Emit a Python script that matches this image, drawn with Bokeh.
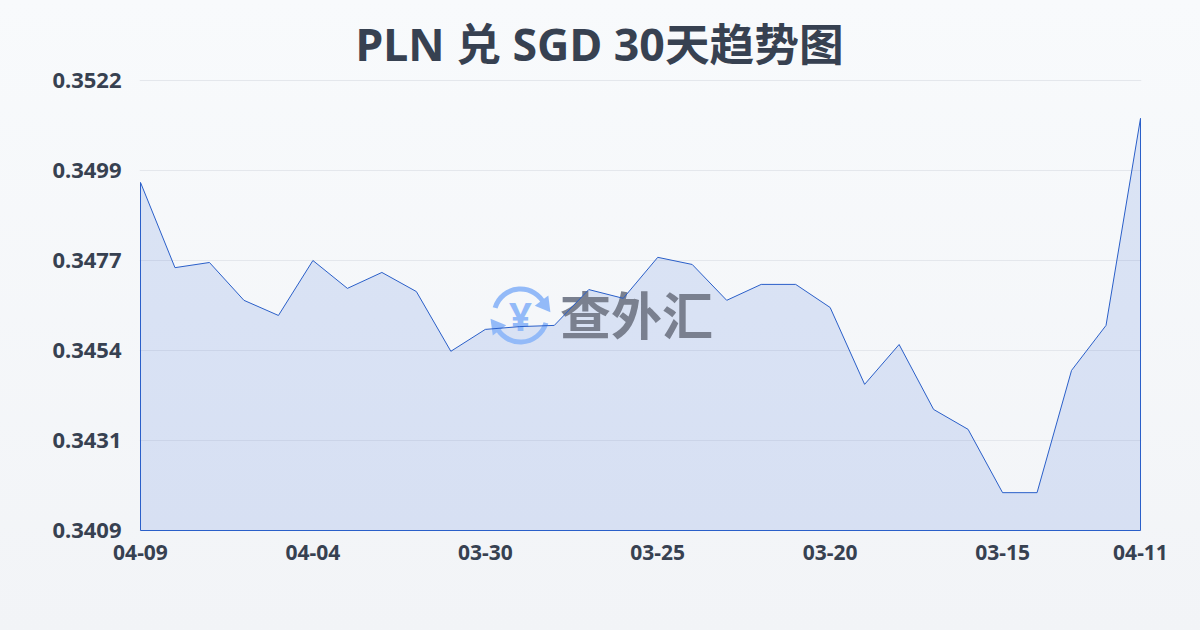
from bokeh.plotting import figure
from bokeh.embed import file_html
from bokeh.resources import INLINE
from bokeh.models import FixedTicker, Range1d
from bokeh.core.properties import value

title_text = "PLN 兑 SGD 30天趋势图"
watermark_text = "查外汇"
rates = [0.34964, 0.34750, 0.34763, 0.34668, 0.34630, 0.34768, 0.34698, 0.34738, 0.34690, 0.34540,
         0.34595, 0.34602, 0.34605, 0.34695, 0.34673, 0.34776, 0.34758, 0.34668, 0.34708, 0.34708,
         0.34650, 0.34457, 0.34557, 0.34394, 0.34344, 0.34185, 0.34185, 0.34492, 0.34605, 0.35125]
x_tick_pos = [0, 5, 10, 15, 20, 25, 29]
x_tick_labels = ["04-09", "04-04", "03-30", "03-25", "03-20", "03-15", "04-11"]
y_tick_pos = [0.3522, 0.34994, 0.34768, 0.34542, 0.34316, 0.3409]
y_tick_labels = ["0.3522", "0.3499", "0.3477", "0.3454", "0.3431", "0.3409"]

W, H = 1200, 630
L, R, T, B = 140, 60, 80, 100
FONT = "Noto Sans, Noto Sans CJK SC"
TEXT = "#374151"
LINE = "#2a5fc9"

xs = list(range(len(rates)))
ymin, ymax = y_tick_pos[-1], y_tick_pos[0]
xpad = (len(rates) - 1) / (W - L - R)
ypad = (ymax - ymin) / (H - T - B)

p = figure(width=W, height=H, output_backend="svg", toolbar_location=None,
           x_range=Range1d(-xpad, len(rates) - 1 + xpad), y_range=Range1d(ymin - ypad, ymax + ypad),
           min_border_left=L - 1, min_border_right=R - 1, min_border_top=T - 1, min_border_bottom=B - 1,
           background_fill_alpha=0, border_fill_alpha=0, outline_line_color=None,
           styles={"position": "fixed", "left": "0", "top": "0",
                   "background": "linear-gradient(180deg,#f8fafc 0%,#f2f4f7 100%)"})

def px(v):
    return (v - L) / (W - L - R) * (len(rates) - 1)
def py(v):
    return ymax - (v - T) / (H - T - B) * (ymax - ymin)

p.title.text = title_text
p.title.align = "left"
p.title.offset = 216
p.title.standoff = 11
p.title.text_font = FONT
p.title.text_font_style = "bold"
p.title.text_font_size = "44.7px"
p.title.text_color = TEXT

p.xaxis.ticker = FixedTicker(ticks=x_tick_pos)
p.xaxis.major_label_overrides = dict(zip(x_tick_pos, x_tick_labels))
p.yaxis.ticker = FixedTicker(ticks=y_tick_pos)
p.yaxis.major_label_overrides = dict(zip(y_tick_pos, y_tick_labels))
for ax, size in ((p.xaxis, "21px"), (p.yaxis, "22px")):
    ax.axis_line_color = None
    ax.major_tick_line_color = None
    ax.minor_tick_line_color = None
    ax.major_label_text_font = FONT
    ax.major_label_text_font_style = "bold"
    ax.major_label_text_font_size = size
    ax.major_label_text_color = TEXT
p.xaxis.major_label_standoff = 7
p.yaxis.major_label_standoff = 12
p.xgrid.visible = False
p.ygrid.grid_line_color = "#e4e7ec"
p.ygrid.grid_line_width = 1

p.patch([xs[0]] + xs + [xs[-1]], [ymin] + rates + [ymin],
        fill_color="#3a6ad8", fill_alpha=0.15, line_color=None)

# watermark logo
cx, cy = px(520), py(315)
BLUE = "#93baf8"
p.annular_wedge([cx], [cy], inner_radius=24, outer_radius=29, inner_radius_units="screen",
                outer_radius_units="screen", start_angle=[0.42], end_angle=[2.85],
                fill_color=BLUE, line_color=None)
p.annular_wedge([cx], [cy], inner_radius=24, outer_radius=29, inner_radius_units="screen",
                outer_radius_units="screen", start_angle=[3.5], end_angle=[6.0],
                fill_color=BLUE, line_color=None)
p.scatter([px(544)], [py(304)], marker="triangle", size=17, angle=[-0.4], fill_color=BLUE, line_color=None)
p.scatter([px(496)], [py(326)], marker="triangle", size=17, angle=[2.75], fill_color=BLUE, line_color=None)
p.text([cx], [cy], text=["¥"], text_font=value(FONT), text_font_style="bold",
       text_font_size="40px", text_color=BLUE, text_align="center", text_baseline="middle")
p.text([px(636)], [py(312)], text=[watermark_text], text_font=value("Noto Sans CJK SC"),
       text_font_style="bold", text_font_size="51px", text_color="#7a808f",
       text_align="center", text_baseline="middle")

# outline
p.line([xs[0]] + xs + [xs[-1], xs[0]], [ymin] + rates + [ymin, ymin], line_color=LINE, line_width=1)

open("out.html", "w").write(file_html(p, INLINE))
